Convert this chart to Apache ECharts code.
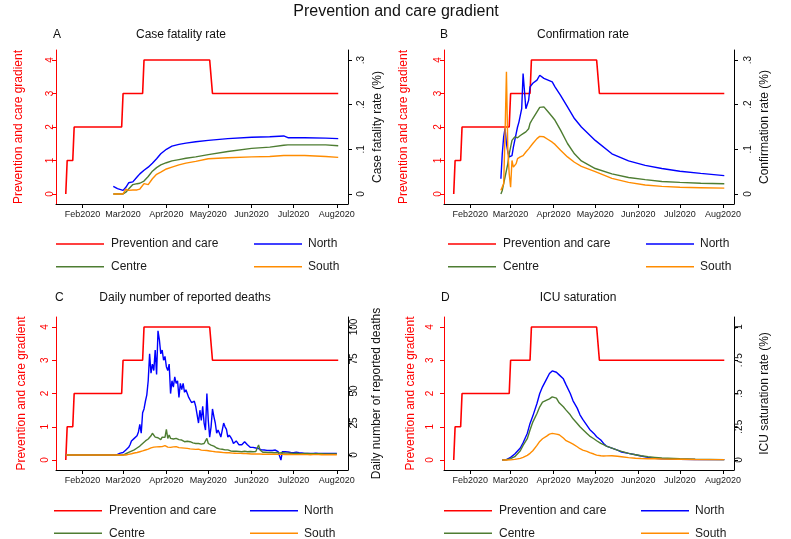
<!DOCTYPE html>
<html>
<head>
<meta charset="utf-8">
<script src="https://cdn.jsdelivr.net/npm/echarts@6/dist/echarts.min.js"></script>
<style>
  html, body { margin: 0; padding: 0; background: #fff; }
  #chart { width: 791px; height: 539px; }
</style>
</head>
<body>
<div id="chart"></div>
<script>
const FONT = '"Liberation Sans", Arial, Helvetica, sans-serif'
const RED = '#ff0000', BLUE = '#0000ff', GREEN = '#4e7d32', ORANGE = '#ff8c00'

// x axis: month ticks
const monthTicks = ['02-01', '03-01', '04-01', '05-01', '06-01', '07-01', '08-01']
const monthLabels = ['Feb2020', 'Mar2020', 'Apr2020', 'May2020', 'Jun2020', 'Jul2020', 'Aug2020']

// prevention and care gradient (left axis, same in every panel)
const careDates = ['01-20', '01-21', '01-25', '01-26', '02-29', '03-01', '03-15', '03-16', '05-02', '05-04', '08-02']
const careLevel = [0, 1, 1, 2, 2, 3, 3, 4, 4, 3, 3]

// A - case fatality rate
const cfrDates = ['02-23', '02-26', '03-01', '03-03', '03-05', '03-08', '03-11', '03-13', '03-16', '03-19', '03-22', '03-25', '03-28', '04-01',
  '04-05', '04-10', '04-15', '04-22', '05-01', '05-15', '06-01', '06-14', '06-24', '06-27', '07-09', '07-24', '08-02']
const cfrNorth = [.017, .012, .008, .015, .025, .027, .038, .045, .053, .06, .069, .079, .09, .1,
  .107, .111, .114, .117, .12, .124, .127, .128, .13, .126, .126, .125, .124]
const cfrCentre = [0, 0, 0, .004, .011, .021, .023, .024, .029, .039, .051, .059, .065, .07,
  .074, .077, .08, .083, .088, .095, .102, .105, .109, .11, .11, .11, .108]
const cfrSouth = [0, 0, 0, .011, .008, .009, .009, .011, .023, .021, .034, .044, .049, .056,
  .06, .065, .069, .073, .079, .081, .083, .084, .086, .086, .086, .084, .082]

// B - confirmation rate
const confDates = ['02-23', '02-24', '02-25', '02-26', '02-27', '02-28', '02-29', '03-01', '03-02', '03-03', '03-04', '03-05', '03-06',
  '03-07', '03-08', '03-09', '03-10', '03-11', '03-12', '03-13', '03-14', '03-15', '03-17', '03-20', '03-22', '03-25', '03-28', '03-31',
  '04-02', '04-06', '04-11', '04-16', '04-21', '05-01', '05-13', '05-25', '06-06', '06-18', '07-01', '07-16', '08-02']
const confNorth = [.034, .09, .128, .147, .113, .094, .083, .083, .086, .105, .12, .135, .15,
  .161, .176, .191, .27, .266, .191, .188, .21, .24, .248, .255, .266, .259, .255, .251,
  .24, .221, .195, .169, .15, .12, .09, .074, .064, .057, .051, .046, .041]
const confCentre = [0, .008, .023, .038, .053, .068, .09, .105, .12, .124, .128, .124, .126,
  .129, .131, .131, .135, .137, .139, .143, .146, .158, .169, .184, .194, .195, .184, .173,
  .165, .143, .113, .09, .074, .057, .045, .037, .032, .028, .026, .024, .023]
const confSouth = [.008, .004, .023, .135, .274, .098, .045, .015, .075, .06, .064, .068, .079,
  .075, .083, .086, .086, .09, .094, .098, .101, .105, .113, .124, .129, .128, .122, .116,
  .111, .098, .083, .071, .062, .05, .035, .026, .02, .017, .015, .014, .013]

// C - daily reported deaths: zero at the lead date, then one value per day from deathsFrom
const deathsLead = ['01-20', 0]
const deathsFrom = '02-22'
const deathsNorth = [
  0, 0, 0, 0, 0.5, 1, 1.5, 2, 2, 3, 4, 5, 6, 8, 11, 10, 13, 14, 15, 18,
  24, 17, 33, 36, 42, 47, 58, 79, 64, 71, 66, 82, 63, 97, 90, 79, 82, 74, 77, 69,
  66, 71, 48, 58, 53, 61, 56, 58, 45, 56, 51, 56, 49, 51, 52, 45, 43, 41, 40, 42,
  38, 37, 25, 35, 27, 38, 25, 19.5, 48, 27, 14, 22, 36, 30, 25, 17, 19.5, 17, 14, 19.5,
  25, 22, 20, 14, 15.6, 14, 12, 9, 10, 11, 10.4, 8, 6.5, 8, 9, 10.4, 9, 8, 7, 6,
  5.2, 6, 6.5, 5.5, 4.4, 5, 4.5, 4, 4.2, 3.9, 4.4, 3.6, 4, 3.5, 3.9, 3.5, 3.2, 3.9, 3, 2.6,
  2.2, -3.9, 2.6, 2.2, 2.6, 2, 2.4, 1.8, 2, 2.2, 1.8, 1.8, 2.2, 1.6, 1.8, 1.5, 1.6, 1.4, 1.3, 1.5,
  1.3, 1.4, 1.2, 1.5, 1.3, 1.2, 1.4, 1.3, 1.2, 1.4, 1.3, 1.2, 1.3, 1.4, 1.2, 1.3, 1.2, 1.3, 1.2, 1.3,
  1.3, 1.2]
const deathsCentre = [
  0, 0, 0, 0, 0, 0, 0, 0, 0, 0.5, 1, 1.5, 2, 2.5, 3, 3.5, 4, 5, 5.5, 6.5,
  7, 8, 9, 10, 11, 11.5, 12.5, 13, 15, 17, 17.5, 14, 15, 13.5, 14.8, 12, 14, 14.8, 13.8, 20,
  13, 15.6, 13, 14.3, 12.5, 14, 13, 13.5, 12, 13, 11.7, 12.5, 10.4, 11.7, 10.8, 11, 10.4, 10, 9.5, 10,
  9, 8.5, 9, 7.8, 8.5, 9, 9, 10.4, 13, 9, 8.5, 7.8, 8, 7, 6.5, 5.5, 5, 4.8, 5, 4.5,
  4.4, 4, 4.4, 4, 3.5, 3.2, 3.5, 3, 3.4, 3, 3.5, 2.8, 3, 2.6, 2.4, 3, 3.4, 2.6, 3, 2.8,
  2.2, 2.6, 2.4, 2.8, 3.5, 7.8, 4, 2.6, 2.2, 2, 2.2, 1.9, 2, 1.8, 2, 2.4, 1.8, 1.6, 2, 1.8,
  1.6, 1.5, 1.8, 1.5, 1.6, 1.4, 1.5, 1.3, 1.4, 1.5, 1.3, 1.2, 1.4, 1.3, 1.2, 1.3, 1.1, 1.2, 1.3, 1.1,
  1.2, 1, 1.1, 1.2, 1, 1.1, 1, 1.1, 1, 0.9, 1, 1.1, 0.9, 1, 0.9, 1, 0.9, 0.8, 0.9, 1,
  0.9, 0.8]
const deathsSouth = [
  0, 0, 0, 0, 0, 0, 0, 0, 0, 0, 0, 0.3, 0.5, 0.8, 1, 1.3, 1.6, 1.8, 2, 2.4,
  2.6, 2.9, 3.2, 3.5, 3.9, 4.2, 4.6, 5.2, 5.6, 6, 6.2, 6.8, 6.4, 7, 6.5, 7.2, 6.6, 6.4, 7.4, 6.8,
  6.2, 6.8, 6, 6.6, 6.4, 5.8, 6.6, 6, 5.8, 6.4, 5.6, 6.2, 5.4, 5.8, 5.2, 5.5, 4.8, 5, 4.6, 4.8,
  4.4, 4.2, 4.6, 4, 3.8, 4, 3.6, 3.3, 3.5, 3, 3.2, 2.8, 2.9, 2.5, 2.6, 2.3, 2.4, 2.1, 2.2, 2,
  1.9, 2, 1.8, 1.7, 1.8, 1.6, 1.5, 1.6, 1.4, 1.5, 1.3, 1.2, 1.3, 1.1, 1.2, 1, 1.1, 0.9, 1, 0.9,
  0.8, 0.9, 0.8, 0.7, 0.8, 0.7, 0.8, 0.7, 0.6, 0.7, 0.6, 0.7, 0.6, 0.5, 0.6, 0.5, 0.6, 0.5, 0.5, 0.4,
  0.5, 0.4, 0.5, 0.4, 0.4, 0.5, 0.4, 0.3, 0.4, 0.4, 0.3, 0.4, 0.3, 0.4, 0.3, 0.3, 0.4, 0.3, 0.3, 0.2,
  0.3, 0.3, 0.2, 0.3, 0.3, 0.2, 0.3, 0.2, 0.3, 0.2, 0.2, 0.3, 0.2, 0.2, 0.3, 0.2, 0.2, 0.2, 0.3, 0.2,
  0.2, 0.2]

// D - ICU saturation
const icuDates = ['02-24', '02-27', '03-01', '03-04', '03-08', '03-10', '03-13', '03-15', '03-17', '03-20', '03-22', '03-24', '03-27',
  '03-29', '03-31', '04-03', '04-05', '04-08', '04-10', '04-13', '04-15', '04-18', '04-20', '04-22', '04-25', '04-27', '04-30',
  '05-02', '05-05', '05-07', '05-09', '05-13', '05-17', '05-20', '05-25', '05-30', '06-03', '06-08', '06-13', '06-18', '07-01',
  '07-12', '08-02']
const icuNorth = [0, .003, .02, .045, .09, .13, .2, .275, .33, .425, .5, .55, .61,
  .65, .67, .66, .64, .61, .565, .5, .445, .39, .34, .305, .26, .23, .2,
  .175, .15, .125, .105, .09, .075, .06, .05, .04, .03, .02, .0125, .01, .005,
  .004, .003]
const icuCentre = [0, .002, .01, .025, .07, .11, .16, .225, .285, .35, .4, .435, .45,
  .46, .475, .465, .43, .4, .375, .34, .31, .275, .25, .23, .2, .18, .16,
  .145, .125, .115, .105, .09, .075, .065, .05, .04, .032, .025, .02, .015, .01,
  .006, .003]
const icuSouth = [0, 0, .001, .005, .0125, .02, .035, .05, .07, .11, .14, .16, .18,
  .195, .2, .195, .19, .165, .145, .13, .12, .1, .085, .075, .065, .055, .045,
  .037, .032, .03, .031, .032, .028, .025, .018, .013, .011, .01, .009, .008, .006,
  .004, .003]

// day of year 2020 (1 Jan = 0)
function doy(s) {
  const [m, d] = s.split('-').map(Number)
  return Math.round((Date.UTC(2020, m - 1, d) - Date.UTC(2020, 0, 1)) / 864e5)
}
const pairs = (dates, vals) => vals.map((v, i) => [doy(dates[i]), v])
const daily = vals => [[doy(deathsLead[0]), deathsLead[1]], ...vals.map((v, i) => [doy(deathsFrom) + i, v])]

const monthDays = monthTicks.map(doy)
const carePts = pairs(careDates, careLevel)
const stripZero = v => String(+v.toFixed(3)).replace(/^0\./, '.')

const panels = [
  { letter: 'A', title: 'Case fatality rate', titleX: 181, letterX: 53, titleY: 35,
    left: 56, top: 50, width: 292, height: 154, legendY: [244, 266.7], legendL: 56, legendR: 254,
    rightName: 'Case fatality rate (%)', rMin: -0.3 * 0.075, rMax: 4.3 * 0.075, rTicks: [0, .1, .2, .3],
    lMargin: 1, rMargin: 8, lGap: 31, rGap: 24,
    north: pairs(cfrDates, cfrNorth), centre: pairs(cfrDates, cfrCentre), south: pairs(cfrDates, cfrSouth) },
  { letter: 'B', title: 'Confirmation rate', titleX: 583, letterX: 440, titleY: 35,
    left: 444, top: 50, width: 290, height: 154, legendY: [244, 266.7], legendL: 448, legendR: 646,
    rightName: 'Confirmation rate (%)', rMin: -0.3 * 0.075, rMax: 4.3 * 0.075, rTicks: [0, .1, .2, .3],
    lMargin: 1, rMargin: 9, lGap: 34, rGap: 25,
    north: pairs(confDates, confNorth), centre: pairs(confDates, confCentre), south: pairs(confDates, confSouth) },
  { letter: 'C', title: 'Daily number of reported deaths', titleX: 185, letterX: 55, titleY: 298,
    left: 56, top: 317, width: 292, height: 153, legendY: [510.7, 533.3], legendL: 54, legendR: 250,
    rightName: 'Daily number of reported deaths', rMin: -0.45 * 100 / 3.85, rMax: 4.15 * 100 / 3.85, rTicks: [0, 25, 50, 75, 100],
    lMargin: 6, rMargin: 1, lGap: 28, rGap: 23,
    north: daily(deathsNorth), centre: daily(deathsCentre), south: daily(deathsSouth) },
  { letter: 'D', title: 'ICU saturation', titleX: 578, letterX: 441, titleY: 298,
    left: 444, top: 317, width: 290, height: 153, legendY: [510.7, 533.3], legendL: 444, legendR: 641,
    rightName: 'ICU saturation rate (%)', rMin: -0.075, rMax: 1.075, rTicks: [0, .25, .5, .75, 1],
    lMargin: 9, rMargin: 0, lGap: 27, rGap: 25,
    north: pairs(icuDates, icuNorth), centre: pairs(icuDates, icuCentre), south: pairs(icuDates, icuSouth) },
]

const grid = [], xAxis = [], yAxis = [], series = [], legend = [], graphic = []

panels.forEach((p, i) => {
  grid.push({ left: p.left, top: p.top, width: p.width, height: p.height })

  xAxis.push({
    type: 'value', gridIndex: i, min: 12, max: 221,
    axisLine: { onZero: false, lineStyle: { color: '#000', width: 1 } },
    axisTick: { customValues: monthDays, length: 4, lineStyle: { color: '#000' } },
    axisLabel: {
      customValues: monthDays, margin: 6, fontSize: 9, color: '#222', fontFamily: FONT,
      formatter: v => monthLabels[monthDays.indexOf(v)] || '',
    },
    splitLine: { show: false },
  })

  yAxis.push({
    type: 'value', gridIndex: i, position: 'left', min: -0.3, max: 4.3,
    axisLine: { show: true, onZero: false, lineStyle: { color: RED, width: 1 } },
    axisTick: { show: true, customValues: [0, 1, 2, 3, 4], length: 4, lineStyle: { color: RED } },
    axisLabel: { customValues: [0, 1, 2, 3, 4], rotate: 90, margin: p.lMargin, fontSize: 10, color: RED, fontFamily: FONT },
    splitLine: { show: false },
    name: 'Prevention and care gradient', nameLocation: 'middle', nameRotate: 90, nameGap: p.lGap,
    nameTextStyle: { color: RED, fontSize: 12, fontFamily: FONT },
  })
  yAxis.push({
    type: 'value', gridIndex: i, position: 'right', min: p.rMin, max: p.rMax,
    axisLine: { show: true, onZero: false, lineStyle: { color: '#000', width: 1 } },
    axisTick: { show: true, customValues: p.rTicks, length: 4, lineStyle: { color: '#000' } },
    axisLabel: { customValues: p.rTicks, rotate: 90, margin: p.rMargin, fontSize: 10, color: '#111', fontFamily: FONT, formatter: stripZero },
    splitLine: { show: false },
    name: p.rightName, nameLocation: 'middle', nameRotate: 90, nameGap: p.rGap,
    nameTextStyle: { color: '#111', fontSize: 12, fontFamily: FONT },
  })

  const line = (name, data, color, yi, w) => ({
    name, type: 'line', xAxisIndex: i, yAxisIndex: yi, data, color,
    symbol: 'none', showSymbol: false, lineStyle: { color, width: w }, emphasis: { disabled: true },
  })
  series.push(line('Prevention and care', carePts, RED, 2 * i, 1.6))
  series.push(line('North', p.north, BLUE, 2 * i + 1, 1.4))
  series.push(line('Centre', p.centre, GREEN, 2 * i + 1, 1.4))
  series.push(line('South', p.south, ORANGE, 2 * i + 1, 1.4))

  // one legend per entry, laid out as two rows by two columns
  const leg = (left, row, name, pad) => ({
    left, top: p.legendY[row] - 6, orient: 'horizontal', padding: 0,
    icon: 'rect', itemWidth: 48, itemHeight: 1.6, selectedMode: false, data: [name],
    textStyle: { fontSize: 12, color: '#1a1a1a', fontFamily: FONT, lineHeight: 12, padding: [0, 0, 0, pad] },
  })
  legend.push(leg(p.legendL, 0, 'Prevention and care', 2))
  legend.push(leg(p.legendR, 0, 'North', 1))
  legend.push(leg(p.legendL, 1, 'Centre', 2))
  legend.push(leg(p.legendR, 1, 'South', 1))

  graphic.push({ type: 'text', x: p.letterX, y: p.titleY,
    style: { text: p.letter, fontSize: 12, fontFamily: FONT, fill: '#111', align: 'left', verticalAlign: 'middle' } })
  graphic.push({ type: 'text', x: p.titleX, y: p.titleY,
    style: { text: p.title, fontSize: 12, fontFamily: FONT, fill: '#111', align: 'center', verticalAlign: 'middle' } })
})

graphic.push({ type: 'text', x: 396, y: 12,
  style: { text: 'Prevention and care gradient', fontSize: 16, fontFamily: FONT, fill: '#111', align: 'center', verticalAlign: 'middle' } })

const chart = echarts.init(document.getElementById('chart'))
chart.setOption({
  animation: false,
  backgroundColor: '#fff',
  grid, xAxis, yAxis, series, legend, graphic,
})
</script>
</body>
</html>
